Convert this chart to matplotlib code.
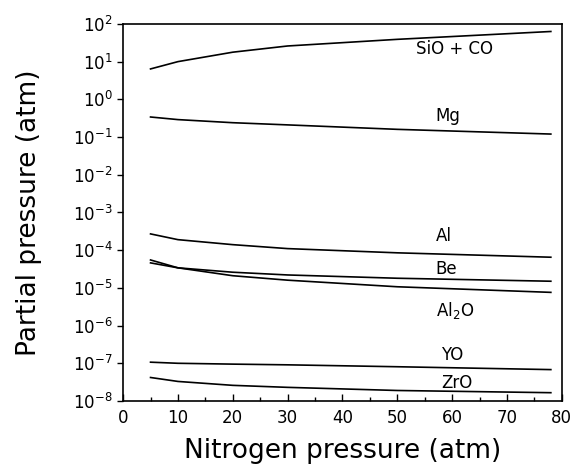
import matplotlib
matplotlib.use("Agg")
import matplotlib.pyplot as plt
from matplotlib.ticker import MultipleLocator, LogLocator, NullLocator

n2_press = [5, 10, 20, 30, 50, 78]

sio_co = [6.4, 10.0, 17.8, 26.0, 39.0, 63.0]
mg     = [0.34, 0.29, 0.24, 0.21, 0.16, 0.12]
al     = [2.7e-4, 1.9e-4, 1.4e-4, 1.1e-4, 8.5e-5, 6.5e-5]
be     = [4.6e-5, 3.4e-5, 2.6e-5, 2.2e-5, 1.8e-5, 1.5e-5]
al2o   = [5.5e-5, 3.4e-5, 2.1e-5, 1.6e-5, 1.07e-5, 7.6e-6]
yo     = [1.07e-7, 1.0e-7, 9.5e-8, 9.1e-8, 8.1e-8, 6.8e-8]
zro    = [4.2e-8, 3.3e-8, 2.6e-8, 2.3e-8, 1.9e-8, 1.66e-8]

series = [sio_co, mg, al, be, al2o, yo, zro]

# label text, x position, y value
labels = [
    ("SiO + CO", 53.5, 22.0),
    ("Mg",       57, 0.36),
    ("Al",       57, 2.4e-4),
    ("Be",       57, 3.2e-5),
    (r"Al$_2$O", 57, 2.5e-6),
    ("YO",       58, 1.7e-7),
    ("ZrO",      58, 3.0e-8),
]

fig = plt.figure(figsize=(5.78, 4.69), dpi=100)
ax = fig.add_axes([0.213, 0.145, 0.759, 0.804])

for s in series:
    ax.plot(n2_press, s, color="black", linewidth=1.2)

for txt, x, y in labels:
    ax.text(x, y, txt, fontsize=12, ha="left", va="center")

ax.set_yscale("log")
ax.set_xlim(0, 80)
ax.set_ylim(1e-8, 1e2)
ax.xaxis.set_major_locator(MultipleLocator(10))
ax.xaxis.set_minor_locator(MultipleLocator(5))
ax.yaxis.set_major_locator(LogLocator(base=10, numticks=20))
ax.yaxis.set_minor_locator(NullLocator())

ax.tick_params(axis="x", direction="in", length=5, width=1, labelsize=12, pad=6, top=False)
ax.tick_params(axis="x", which="minor", direction="in", length=3, width=1, top=False)
ax.tick_params(axis="y", direction="out", length=4, width=1, labelsize=12, right=False)

for sp in ax.spines.values():
    sp.set_linewidth(1.2)

ax.set_xlabel("Nitrogen pressure (atm)", fontsize=19, labelpad=8)
ax.set_ylabel("Partial pressure (atm)", fontsize=19, labelpad=22)

fig.savefig("out.png", dpi=100)
